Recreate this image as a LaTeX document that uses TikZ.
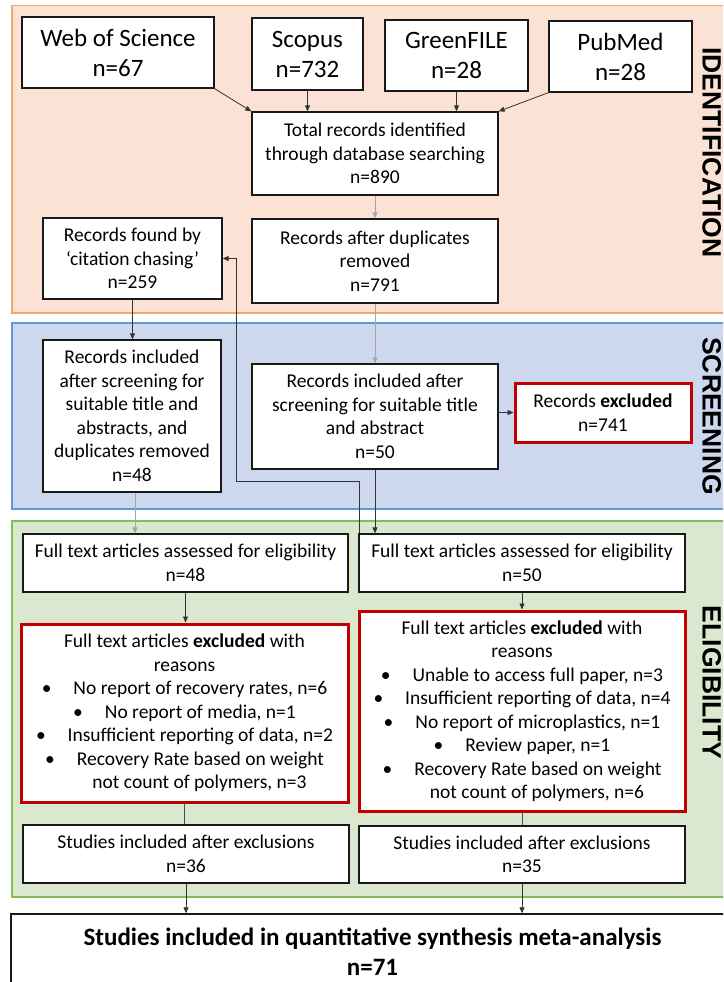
\documentclass[tikz,border=0pt]{standalone}
\usepackage{fontspec}
\setmainfont{Carlito}
\newfontfamily\labelfont{Liberation Sans}
\usetikzlibrary{arrows.meta,calc}
\definecolor{orfill}{HTML}{FBE2D5}
\definecolor{ordraw}{HTML}{F4A46E}
\definecolor{blfill}{HTML}{CDD8EE}
\definecolor{bldraw}{HTML}{5B9BD5}
\definecolor{grfill}{HTML}{D9E8CF}
\definecolor{grdraw}{HTML}{7FBF5A}
\definecolor{boxred}{HTML}{C00000}
\tikzset{
  box/.style={draw=black!90, line width=1.3pt, fill=white, inner sep=0pt, align=center,
    font=\fontsize{19.5}{23.5}\selectfont},
  redbox/.style={box, draw=boxred, line width=3pt},
  srcbox/.style={box, font=\fontsize{25}{30}\selectfont},
  finalbox/.style={box, line width=1.5pt, font=\bfseries\fontsize{25}{30}\selectfont},
  arr/.style={-{Triangle[length=6pt,width=5pt]}, line width=0.8pt, draw=black!80},
  garr/.style={arr, draw=black!35},
  plainln/.style={line width=0.8pt, draw=black!70},
  section/.style={line width=1.3pt},
  seclabel/.style={rotate=-90, anchor=base, inner sep=0pt, font=\labelfont\bfseries\fontsize{26.5}{30}\selectfont},
}
\newcommand\bx[7]{\node[#2, minimum width={(#5-#3)*1pt}, minimum height={(#6-#4)*1pt}]
  (#1) at ({(#3+#5)/2},{(#4+#6)/2}) {#7};}
\newcommand\bul{\textbullet\hspace{22pt}}
\begin{document}
\begin{tikzpicture}[x=1pt,y=-1pt]
\useasboundingbox (0,0) rectangle (723,982);
\clip (0,0) rectangle (723,982);
% sections
\draw[section, fill=orfill, draw=ordraw] (12,5.5) rectangle (740,313);
\draw[section, fill=blfill, draw=bldraw] (12,323) rectangle (740,509);
\draw[section, fill=grfill, draw=grdraw] (12,521) rectangle (740,897);
\node[seclabel] (lid) at (702.5,152.5) {IDENTIFICATION};
\node[seclabel] (lsc) at (702.5,416) {SCREENING};
\node[seclabel] (lel) at (702.5,682.5) {ELIGIBILITY};
% source boxes
\bx{wos}{srcbox}{22}{17}{214}{88}{Web of Science\\n=67}
\bx{scopus}{srcbox}{252}{18}{363}{90}{Scopus\\n=732}
\bx{green}{srcbox}{385}{20}{528}{91}{GreenFILE\\n=28}
\bx{pubmed}{srcbox}{549}{21}{692}{92}{PubMed\\n=28}
% identification
\bx{total}{box}{252}{112}{498}{195}{Total records identified\\through database searching\\n=890}
\bx{dup}{box}{252}{219}{498}{303}{Records after duplicates\\removed\\n=791}
\bx{cite}{box}{43}{218}{222}{299}{Records found by\\‘citation chasing’\\n=259}
% screening
\bx{inclL}{box}{43}{340}{221}{492}{Records included\\after screening for\\suitable title and\\abstracts, and\\duplicates removed\\n=48}
\bx{mid}{box}{252}{364}{498}{469}{Records included after\\screening for suitable title\\and abstract\\n=50}
\bx{exS}{redbox}{515}{383}{691}{442}{Records \textbf{excluded}\\n=741}
% eligibility
\bx{ftL}{box}{23}{534}{348}{592}{Full text articles assessed for eligibility\\n=48}
\bx{ftR}{box}{359}{534}{685}{592}{Full text articles assessed for eligibility\\n=50}
\bx{exL}{redbox}{21}{624}{348}{802}{Full text articles \textbf{excluded} with\\reasons\\
  \bul No report of recovery rates, n=6\\
  \bul No report of media, n=1\\
  \bul Insufficient reporting of data, n=2\\
  \bul Recovery Rate based on weight\\
  \hspace*{30pt}not count of polymers, n=3}
\bx{exR}{redbox}{359}{611}{685}{811}{Full text articles \textbf{excluded} with\\reasons\\
  \bul Unable to access full paper, n=3\\
  \bul Insufficient reporting of data, n=4\\
  \bul No report of microplastics, n=1\\
  \bul Review paper, n=1\\
  \bul Recovery Rate based on weight\\
  \hspace*{30pt}not count of polymers, n=6}
\bx{stL}{box}{23}{825}{349}{883}{Studies included after exclusions\\n=36}
\bx{stR}{box}{359}{826}{685}{883}{Studies included after exclusions\\n=35}
\bx{final}{finalbox}{11}{914}{734}{989}{Studies included in quantitative synthesis meta-analysis\\n=71}
% connectors
\draw[arr] (wos.south east) -- (total.north west);
\draw[arr] (scopus.south) -- (scopus.south |- total.north);
\draw[arr] (green.south) -- (green.south |- total.north);
\draw[arr] (pubmed.south west) -- (total.north east);
\draw[garr] (total.south) -- (dup.north);
\draw[garr] (dup.south) -- (mid.north);
\draw[arr] (cite.south) -- (cite.south |- inclL.north);
\draw[garr] ([xshift=3pt]inclL.south) -- ([xshift=3pt]inclL.south |- ftL.north);
\draw[arr] (mid.south) -- (mid.south |- ftR.north);
\draw[arr] (mid.east |- exS.west) -- (exS.west);
\coordinate (loopA) at (236,481);
\draw[arr] ([xshift=1pt]ftR.north west) |- (loopA) |- (cite.east);
\draw[arr] (ftL.south) -- (ftL.south |- exL.north);
\draw[arr] (ftR.south) -- (ftR.south |- exR.north);
\draw[plainln] (exL.south) -- (exL.south |- stL.north);
\draw[plainln] (exR.south) -- (exR.south |- stR.north);
\draw[arr] (stL.south) -- (stL.south |- final.north);
\draw[arr] (stR.south) -- (stR.south |- final.north);
\end{tikzpicture}
\end{document}
